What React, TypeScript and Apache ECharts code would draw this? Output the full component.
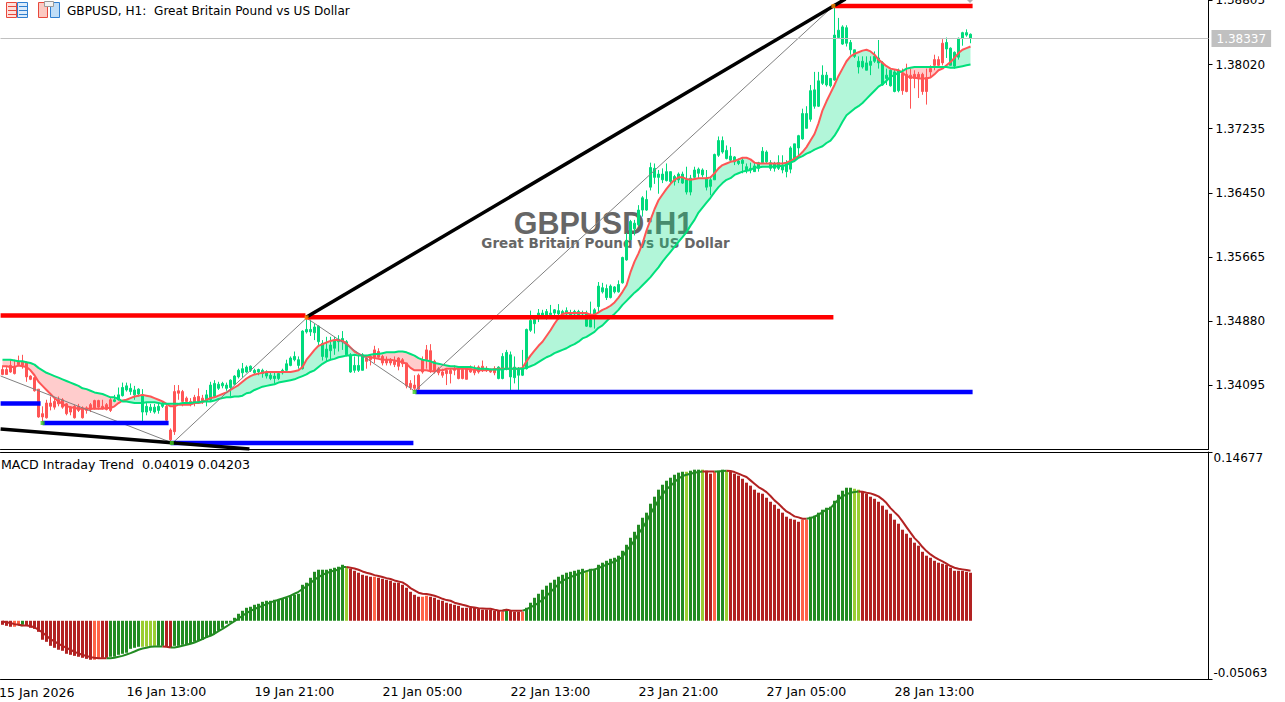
import React, { useEffect, useRef } from "react";
import * as echarts from "echarts";

// Price data is in 1/10000 price units: [open, close, low, high]
const candleE4 = [
[13429,13423,13422,13434],[13429,13423,13423,13432],[13434,13426,13425,13441],[13433,13424,13423,13441],[13439,13435,13434,13446],[13439,13434,13430,13447],[13437,13420,13414,13439],[13421,13417,13416,13422],[13419,13403,13402,13420],[13405,13371,13370,13405],
[13375,13371,13365,13384],[13388,13370,13369,13392],[13388,13384,13379,13396],[13390,13383,13380,13394],[13392,13387,13384,13396],[13392,13383,13381,13394],[13387,13375,13373,13388],[13383,13377,13373,13384],[13384,13370,13369,13386],[13384,13379,13377,13387],
[13382,13370,13369,13384],[13382,13379,13375,13384],[13386,13380,13377,13388],[13391,13382,13380,13392],[13391,13383,13380,13392],[13384,13382,13380,13392],[13386,13380,13379,13388],[13392,13379,13377,13394],[13390,13392,13389,13398],[13392,13398,13391,13407],
[13397,13407,13396,13413],[13404,13409,13402,13413],[13402,13406,13398,13412],[13398,13404,13392,13409],[13399,13405,13396,13406],[13377,13398,13366,13405],[13377,13384,13373,13388],[13379,13383,13376,13387],[13377,13383,13375,13387],[13379,13384,13375,13388],
[13384,13388,13382,13390],[13384,13367,13365,13386],[13355,13343,13341,13357],[13402,13353,13349,13410],[13403,13400,13392,13410],[13402,13390,13384,13404],[13394,13390,13386,13396],[13390,13387,13384,13394],[13395,13388,13384,13398],[13396,13390,13388,13406],
[13394,13390,13387,13398],[13390,13398,13384,13404],[13392,13410,13390,13414],[13396,13412,13395,13416],[13406,13411,13404,13414],[13409,13412,13406,13414],[13406,13410,13403,13413],[13407,13416,13396,13417],[13411,13421,13410,13422],[13420,13428,13418,13430],
[13425,13430,13419,13437],[13426,13432,13425,13434],[13428,13433,13426,13434],[13425,13428,13423,13430],[13426,13429,13422,13430],[13424,13428,13419,13430],[13421,13426,13418,13428],[13418,13422,13416,13426],[13418,13421,13412,13425],[13418,13424,13416,13426],
[13425,13428,13423,13430],[13428,13436,13426,13441],[13434,13443,13433,13445],[13441,13445,13439,13451],[13434,13441,13430,13445],[13430,13476,13429,13477],[13475,13478,13473,13490],[13475,13478,13470,13490],[13474,13481,13465,13485],[13463,13482,13459,13483],
[13445,13461,13440,13465],[13444,13454,13439,13469],[13452,13459,13441,13469],[13455,13465,13447,13469],[13463,13466,13451,13471],[13463,13467,13453,13476],[13447,13463,13445,13465],[13426,13447,13425,13449],[13428,13434,13425,13445],[13428,13434,13426,13447],
[13428,13447,13428,13449],[13443,13439,13430,13447],[13445,13441,13434,13447],[13453,13444,13437,13458],[13451,13444,13443,13455],[13445,13437,13434,13447],[13441,13437,13434,13445],[13441,13437,13434,13443],[13439,13435,13432,13445],[13443,13433,13428,13444],
[13441,13436,13432,13443],[13437,13409,13406,13437],[13412,13407,13404,13416],[13410,13406,13403,13422],[13422,13405,13403,13424],[13441,13426,13424,13445],[13453,13441,13430,13459],[13452,13428,13425,13460],[13439,13426,13424,13441],[13430,13425,13422,13432],
[13426,13422,13419,13430],[13428,13424,13410,13429],[13428,13424,13412,13430],[13430,13428,13422,13434],[13430,13418,13417,13432],[13429,13418,13417,13430],[13430,13417,13417,13432],[13430,13426,13425,13434],[13429,13425,13422,13434],[13432,13426,13424,13434],
[13433,13428,13426,13440],[13430,13428,13426,13433],[13428,13426,13425,13430],[13430,13425,13422,13433],[13418,13432,13417,13433],[13418,13445,13417,13449],[13430,13450,13428,13453],[13420,13447,13404,13451],[13419,13432,13412,13445],[13422,13430,13404,13432],
[13422,13430,13421,13453],[13430,13478,13429,13479],[13477,13489,13475,13501],[13485,13490,13473,13490],[13494,13498,13487,13503],[13494,13498,13494,13502],[13494,13500,13490,13503],[13496,13498,13494,13508],[13498,13502,13493,13503],[13497,13501,13490,13509],
[13497,13500,13492,13502],[13497,13501,13494,13505],[13496,13498,13494,13502],[13497,13500,13492,13502],[13496,13500,13494,13502],[13497,13498,13494,13501],[13482,13498,13481,13501],[13481,13490,13481,13512],[13493,13502,13479,13504],[13506,13531,13498,13536],
[13524,13529,13522,13535],[13517,13528,13514,13533],[13517,13531,13516,13533],[13524,13530,13522,13531],[13524,13533,13523,13538],[13535,13566,13534,13567],[13563,13587,13562,13596],[13588,13610,13587,13612],[13601,13608,13593,13612],[13606,13624,13604,13630],
[13624,13639,13616,13641],[13624,13637,13623,13648],[13652,13676,13648,13682],[13664,13675,13656,13681],[13664,13668,13644,13673],[13661,13668,13657,13675],[13660,13671,13659,13681],[13659,13671,13657,13671],[13659,13665,13654,13667],[13661,13668,13657,13670],
[13657,13668,13656,13671],[13646,13661,13643,13677],[13646,13663,13642,13667],[13664,13673,13661,13677],[13669,13674,13663,13676],[13667,13673,13664,13675],[13652,13663,13648,13673],[13653,13661,13642,13665],[13661,13692,13661,13693],[13691,13709,13689,13714],
[13695,13709,13693,13714],[13687,13697,13686,13703],[13685,13690,13683,13701],[13683,13689,13679,13690],[13681,13684,13679,13687],[13681,13685,13669,13688],[13673,13677,13669,13681],[13673,13675,13669,13682],[13671,13678,13671,13682],[13675,13682,13671,13683],
[13682,13696,13681,13701],[13683,13695,13681,13697],[13675,13682,13672,13685],[13675,13681,13671,13683],[13675,13682,13673,13691],[13673,13679,13669,13691],[13671,13681,13664,13685],[13674,13700,13669,13702],[13685,13705,13683,13705],[13700,13715,13690,13716],
[13711,13742,13710,13748],[13724,13742,13724,13751],[13735,13770,13732,13777],[13751,13771,13748,13793],[13751,13782,13750,13793],[13779,13789,13777,13801],[13777,13789,13775,13793],[13776,13785,13774,13785],[13783,13838,13782,13874],[13835,13844,13834,13859],
[13827,13848,13826,13850],[13828,13847,13824,13850],[13820,13829,13814,13832],[13812,13820,13810,13820],[13799,13806,13791,13812],[13799,13806,13797,13812],[13795,13804,13795,13812],[13801,13806,13789,13812],[13806,13812,13804,13818],[13804,13810,13797,13832],
[13777,13804,13776,13806],[13785,13789,13777,13797],[13776,13795,13775,13796],[13769,13793,13768,13796],[13770,13795,13768,13797],[13791,13770,13765,13797],[13790,13769,13768,13803],[13789,13785,13748,13797],[13790,13785,13773,13795],[13790,13786,13761,13793],
[13790,13769,13765,13792],[13786,13769,13753,13797],[13797,13793,13786,13801],[13808,13801,13795,13814],[13808,13801,13799,13812],[13828,13804,13801,13833],[13821,13829,13810,13835],[13801,13822,13801,13823],[13800,13817,13797,13818],[13811,13834,13808,13835],
[13834,13841,13825,13842],[13838,13841,13836,13845],[13834,13839,13828,13840],
];

const fastMaE4 = [
13433,13433,13432,13432,13434,13433,13432,13428,13422,13414,
13409,13404,13399,13394,13390,13387,13384,13383,13382,13381,
13381,13381,13381,13381,13381,13381,13382,13382,13384,13388,
13391,13392,13394,13396,13397,13398,13397,13396,13394,13392,
13390,13387,13384,13384,13386,13386,13386,13386,13388,13388,
13389,13392,13394,13395,13397,13399,13401,13404,13407,13410,
13414,13418,13421,13423,13424,13425,13426,13426,13426,13426,
13426,13426,13426,13427,13428,13432,13441,13447,13453,13458,
13460,13462,13464,13465,13465,13464,13461,13456,13451,13448,
13446,13445,13444,13443,13442,13441,13441,13441,13440,13439,
13438,13436,13431,13428,13428,13428,13428,13427,13427,13428,
13428,13430,13430,13430,13430,13430,13430,13429,13429,13428,
13428,13428,13429,13429,13430,13430,13430,13430,13430,13430,
13431,13439,13446,13452,13458,13463,13470,13477,13485,13492,
13497,13498,13498,13498,13498,13498,13498,13496,13496,13499,
13502,13504,13507,13511,13517,13524,13532,13548,13561,13571,
13583,13599,13612,13625,13636,13643,13650,13656,13661,13664,
13664,13662,13661,13662,13663,13663,13663,13664,13669,13675,
13679,13681,13683,13684,13686,13688,13688,13686,13682,13681,
13681,13681,13681,13681,13681,13681,13682,13684,13687,13690,
13695,13701,13709,13717,13730,13746,13757,13767,13777,13788,
13797,13806,13812,13815,13817,13819,13820,13818,13814,13808,
13804,13800,13797,13796,13795,13792,13788,13786,13786,13785,
13785,13785,13786,13790,13795,13797,13801,13805,13810,13816,
13820,13822,13824,
];

const slowMaE4 = [
13441,13441,13441,13440,13439,13439,13438,13437,13435,13431,
13428,13425,13423,13421,13419,13417,13415,13413,13411,13409,
13406,13405,13403,13401,13400,13399,13397,13395,13395,13393,
13390,13390,13389,13388,13388,13388,13389,13389,13389,13388,
13387,13387,13387,13387,13387,13388,13388,13388,13389,13389,
13390,13390,13390,13391,13393,13394,13395,13395,13396,13396,
13397,13400,13401,13404,13406,13408,13409,13410,13411,13413,
13414,13415,13416,13417,13419,13421,13423,13426,13428,13432,
13436,13439,13441,13442,13444,13445,13446,13446,13447,13446,
13446,13446,13447,13448,13448,13449,13450,13450,13450,13451,
13451,13450,13448,13446,13443,13441,13440,13439,13437,13436,
13435,13434,13433,13433,13432,13432,13432,13432,13431,13430,
13430,13430,13429,13429,13429,13429,13430,13430,13430,13430,
13430,13431,13433,13435,13438,13441,13444,13446,13449,13451,
13453,13455,13458,13460,13463,13467,13469,13472,13475,13480,
13483,13488,13493,13497,13502,13508,13513,13518,13523,13527,
13532,13537,13542,13548,13554,13561,13567,13573,13579,13585,
13591,13597,13605,13612,13621,13627,13633,13639,13646,13652,
13657,13661,13663,13667,13669,13671,13672,13673,13676,13676,
13677,13677,13677,13677,13678,13678,13679,13682,13684,13688,
13690,13693,13695,13698,13700,13702,13706,13709,13715,13723,
13732,13740,13744,13748,13751,13755,13760,13765,13770,13775,
13778,13782,13787,13789,13792,13794,13797,13798,13799,13799,
13799,13799,13799,13799,13799,13799,13799,13798,13798,13799,
13800,13801,13802,
];

// MACD in 1/1000 units
const histE3 = [
-3.5,-4.4,-5.2,-5.2,-3.5,-3.5,-4.4,-6.1,-7,-9.6,
-16.5,-18.3,-21.8,-23.5,-25.2,-26.1,-28.7,-29.6,-30.5,-31.3,
-32.2,-33.1,-33.9,-33.9,-33.1,-32.2,-32.2,-31.3,-31.3,-29.6,
-28.7,-27.8,-24.4,-23.5,-22.6,-22.6,-22.6,-21.8,-21.8,-21.8,
-21.8,-22.6,-23.5,-21.8,-21.8,-20.9,-20.9,-20,-18.3,-17.4,
-16.5,-14.8,-13,-11.3,-8.7,-6.1,-2.6,-1.7,2.6,6.1,
8.7,11.3,12.2,13.9,14.8,16.5,17.4,17.4,18.3,18.3,
19.1,20,21.8,22.6,23.5,31.3,33.1,37.4,42.6,44.4,
44.4,44.4,45.2,46.1,47,48.7,47,45.2,43.5,41.8,
40,39.2,38.3,38.3,37.4,36.5,35.7,34.8,33.1,33.1,
31.3,28.7,25.2,22.6,20.9,20.9,21.8,20.9,20,18.3,
17.4,15.7,14.8,13.9,13,11.3,11.3,11.3,11.3,10.4,
9.6,9.6,9.6,8.7,8.7,7.8,9.6,8.7,7.8,7.8,
7.8,11.3,15.7,20,23.5,27,30.5,33.1,35.7,38.3,
40,41.8,42.6,43.5,44.4,45.2,43.5,45.2,45.2,48.7,
50.5,52.2,53.9,54.8,56.6,60.9,66.1,72.2,77.4,83.5,
89.6,94,101.8,107.9,114,118.3,121.8,124.4,127,128.8,
129.6,129.6,130.5,131.4,131.4,131.4,130.5,127.9,129.6,130.5,
131.4,130.5,129.6,127.9,126.2,123.5,120.1,117.5,114,111.4,
110.5,107,103.5,100.9,97.4,94,90.5,88.7,87.9,86.1,
87.9,87.9,90.5,91.4,94,96.6,98.3,99.2,104.4,109.6,
113.1,115.7,115.7,114.8,114,112.2,110.5,107.9,106.1,103.5,
100.1,96.6,93.1,87.9,84.4,79.2,75.7,72.2,67.9,65.3,
60,56.6,54.8,52.2,50.5,49.6,48.7,46.1,43.5,43.5,
43.5,42.6,41.8,
];

const signalE3 = [
-0.6,-1.2,-2,-2.9,-3.5,-4.1,-4.1,-4.6,-5.8,-7.8,
-10.2,-13,-16,-18,-20,-21.8,-23.5,-25.2,-27,-28.4,
-29.6,-30.7,-31.6,-32.2,-32.5,-32.5,-32.5,-32.5,-32.2,-31.3,
-30.5,-29.3,-28.1,-26.7,-25.2,-24.1,-23.5,-22.6,-22.3,-22.3,
-22.3,-22.6,-23.2,-23.2,-22.6,-21.8,-20.9,-20,-18.9,-17.4,
-16,-14.2,-13,-11.3,-9,-7,-4.9,-2.6,-0.3,2,
4.4,6.7,8.7,10.2,11.6,13,14.5,16,17.1,18.3,
19.4,20.6,21.8,23.5,25.2,27.6,29.9,32.8,35.7,38,
40,41.5,42.6,43.8,44.4,46.7,46.7,46.1,45.5,44.4,
42.9,41.8,40.9,39.7,38.9,38,37.1,36.3,35.1,34.2,
33.4,31.3,28.4,26.4,24.4,23.5,23.2,22.6,21.8,20.6,
19.1,18,17.4,15.7,14.8,13.9,13.1,11.9,11.6,11,
10.7,10.4,10.4,9.6,9,8.7,9.6,9,8.7,8.7,
8.7,9.9,11.9,13.3,15.7,18.3,21.5,24.9,28.4,31.9,
34.8,36.5,38,39.4,40.9,42,43.2,44.1,44.7,45.8,
47.3,48.7,50.2,51.3,53.4,55.4,61.2,65,69.9,75.7,
80.6,86.4,93.1,98.9,104.7,109.6,114.3,117.2,120.6,123.5,
125.9,127,127.9,128.8,129.3,129.9,129.9,129.9,129.9,129.9,
130.2,130.5,130.2,129.3,127.9,126.4,125,122.1,119.2,116.3,
114.3,111.9,108.5,104.7,101.8,98.3,95.1,93.1,90.8,89.9,
88.7,88.7,89.3,90.5,92.2,94.5,96.6,98,101.8,105.6,
108.2,109.9,111.4,111.9,112.5,112.2,111.4,110.8,109.6,108.2,
105.6,102.4,98,94.5,91.1,86.4,81.5,76.6,71.9,68.4,
64.1,60.6,57.7,55.4,53.4,51.6,49.6,47.6,46.1,45.2,
44.7,44.1,43.5,
];

// [bar count, G dark green | L lime | R firebrick | T tomato]
const histColorRuns = [[3,"R"],[2,"T"],[1,"G"],[17,"R"],[2,"T"],[2,"R"],[8,"G"],[4,"L"],[2,"G"],[2,"R"],[42,"G"],[1,"G"],[1,"L"],[6,"R"],[1,"T"],[11,"R"],[2,"T"],[18,"R"],[1,"T"],[1,"G"],[3,"R"],[1,"T"],[15,"G"],[1,"L"],[24,"G"],[1,"L"],[3,"G"],[1,"L"],[2,"R"],[1,"T"],[2,"G"],[1,"L"],[18,"R"],[2,"T"],[11,"G"],[2,"L"],[28,"R"]];
const histColors = { G: "#228B22", L: "#9ACD32", R: "#B22222", T: "#FF6347" };

const priceTicks = [1.34095, 1.34880, 1.35665, 1.36450, 1.37235, 1.38020, 1.38805];
const macdTicks = [-0.05063, 0.14677];
const lastPrice = 1.38337;
const timeTicks = [[31,"16 Jan 13:00"],[63,"19 Jan 21:00"],[95,"21 Jan 05:00"],[127,"22 Jan 13:00"],[159,"23 Jan 21:00"],[191,"27 Jan 05:00"],[223,"28 Jan 13:00"]];
// [from bar, to bar, price]
const resistanceLevels = [[-0.6,75.6,1.3495],[75.6,207.6,1.34928],[207.6,242.4,1.38736]];
const supportLevels = [[-0.6,9.4,1.33874],[9.9,41.4,1.33636],[41.9,102.6,1.33391],[103.1,242.4,1.34015]];
const trendLines = [[[-0.6,1.33562],[61.6,1.33318]],[[75.9,1.34932],[210.6,1.38821]]];
const zigzag = [[-0.6,1.34211],[42.4,1.33391],[75.9,1.3492],[102.9,1.34027],[207.6,1.38736]];
const lowPivots = [[9.9,1.33636],[42.2,1.33391],[102.9,1.34015]];
const highPivots = [[75.9,1.34928],[207.6,1.38736]];

const BAR_SLOTS = 302;
const FONT = "DejaVu Sans";

const fast = fastMaE4.map((v) => v / 1e4);
const slow = slowMaE4.map((v) => v / 1e4);
const candles = candleE4.map((r) => r.map((v) => v / 1e4));
const hist = histE3.map((v) => v / 1e3);
const signal = signalE3.map((v) => v / 1e3);
const codes: string[] = [];
histColorRuns.forEach(([n, c]: any) => { for (let k = 0; k < n; k++) codes.push(c); });
const isGreen = (i: number) => codes[i] === "G" || codes[i] === "L";
const signalGreen = signal.map((v, i) => (isGreen(i) || isGreen(i + 1) ? v : null));
const signalRed = signal.map((v, i) => (!isGreen(i) || (i + 1 < signal.length && !isGreen(i + 1)) ? v : null));

const categories = Array.from({ length: BAR_SLOTS }, () => "");
timeTicks.forEach(([i, s]: any) => { categories[i] = s; });

const bandRuns: { start: number; end: number; up: boolean }[] = [];
{
  let start = 0;
  for (let i = 1; i <= fast.length; i++) {
    const same = i < fast.length && fast[i] >= slow[i] === fast[start] >= slow[start];
    if (!same) {
      bandRuns.push({ start, end: Math.min(i, fast.length - 1), up: fast[start] >= slow[start] });
      start = i;
    }
  }
}

const levelSeries = (levels: number[][], color: string) =>
  levels.map((l) => ({
    type: "line", xAxisIndex: 1, yAxisIndex: 0, z: 5, symbol: "none", silent: true,
    data: [[l[0], l[2]], [l[1], l[2]]],
    lineStyle: { color, width: 4.5, cap: "butt" },
  }));

export default function App() {
  const ref = useRef<HTMLDivElement>(null);
  useEffect(() => {
    const chart = echarts.init(ref.current!, undefined, { renderer: "svg" });
    const priceMax = 1.38809;
    const priceMin = 1.33318;
    const axisLineStyle = { show: true, onZero: false, lineStyle: { color: "#000", width: 1 } };
    chart.setOption({
      animation: false,
      backgroundColor: "#fff",
      grid: [
        { left: 0.5, top: 0, width: 1208, height: 449, outerBoundsMode: "none" },
        { left: 0.5, top: 452, width: 1208, height: 227, outerBoundsMode: "none" },
      ],
      xAxis: [
        { type: "category", gridIndex: 0, data: categories, axisLine: axisLineStyle, axisTick: { show: false }, axisLabel: { show: false } },
        { type: "value", gridIndex: 0, min: -0.625, max: 301.375, show: false, splitLine: { show: false } },
        {
          type: "category", gridIndex: 1, data: categories, axisLine: axisLineStyle,
          axisTick: { alignWithLabel: true, length: 4, lineStyle: { color: "#000" }, interval: (_: number, v: string) => !!v },
          axisLabel: { interval: (_: number, v: string) => !!v, align: "left", color: "#000", fontFamily: FONT, fontSize: 12.6, margin: 6 },
        },
        { type: "value", gridIndex: 1, position: "top", min: -0.625, max: 301.375, axisLine: axisLineStyle, axisTick: { show: false }, axisLabel: { show: false }, splitLine: { show: false } },
      ],
      yAxis: [
        {
          type: "value", gridIndex: 0, position: "right", min: priceMin, max: priceMax, splitLine: { show: false },
          axisLine: axisLineStyle,
          axisTick: { show: true, length: 4, customValues: priceTicks, lineStyle: { color: "#000" } },
          axisLabel: { customValues: priceTicks, formatter: (v: number) => v.toFixed(5), color: "#000", fontFamily: FONT, fontSize: 12, margin: 7 },
        },
        {
          type: "value", gridIndex: 1, position: "right", min: macdTicks[0], max: macdTicks[1], splitLine: { show: false },
          axisLine: axisLineStyle,
          axisTick: { show: true, length: 4, customValues: macdTicks, lineStyle: { color: "#000" } },
          axisLabel: { customValues: macdTicks, formatter: (v: number) => v.toFixed(5), color: "#000", fontFamily: FONT, fontSize: 12, margin: 5, verticalAlignMinLabel: "bottom", verticalAlignMaxLabel: "top" },
        },
      ],
      series: [
        {
          type: "custom", xAxisIndex: 0, yAxisIndex: 0, z: 1, silent: true, clip: true,
          data: bandRuns.map((r) => [r.start, fast[r.start]]),
          renderItem: (params: any, api: any) => {
            const r = bandRuns[params.dataIndex];
            const pts: number[][] = [];
            for (let i = r.start; i <= r.end; i++) pts.push(api.coord([i, fast[i]]));
            for (let i = r.end; i >= r.start; i--) pts.push(api.coord([i, slow[i]]));
            return { type: "polygon", shape: { points: pts }, style: { fill: r.up ? "rgba(0,225,130,0.3)" : "rgba(255,0,0,0.2)" } };
          },
        },
        {
          type: "candlestick", xAxisIndex: 0, yAxisIndex: 0, z: 2, barWidth: 2, silent: true, data: candles,
          itemStyle: { color: "#00DA7C", color0: "#FF5555", borderColor: "#00DA7C", borderColor0: "#FF5555", borderWidth: 1 },
        },
        { type: "line", name: "fast", xAxisIndex: 0, yAxisIndex: 0, z: 3, symbol: "none", silent: true, data: fast, lineStyle: { color: "#FF5555", width: 2 } },
        { type: "line", name: "slow", xAxisIndex: 0, yAxisIndex: 0, z: 3, symbol: "none", silent: true, data: slow, lineStyle: { color: "#00E07C", width: 2 } },
        {
          type: "line", name: "zigzag", xAxisIndex: 1, yAxisIndex: 0, z: 4, symbol: "none", silent: true, data: zigzag,
          lineStyle: { color: "#808080", width: 1 },
          markLine: {
            silent: true, symbol: "none", animation: false, precision: 5,
            data: [{ yAxis: lastPrice }],
            lineStyle: { color: "#C0C0C0", width: 1, type: "solid" },
            label: { show: true, position: "end", distance: 3, formatter: lastPrice.toFixed(5), color: "#fff", backgroundColor: "#C0C0C0", fontFamily: FONT, fontSize: 12, padding: [3, 5, 2, 5] },
          },
        },
        ...levelSeries(resistanceLevels, "#FF0000"),
        ...levelSeries(supportLevels, "#0000FF"),
        ...trendLines.map((t) => ({
          type: "line", xAxisIndex: 1, yAxisIndex: 0, z: 6, symbol: "none", silent: true, data: t,
          lineStyle: { color: "#000", width: 3.5 },
        })),
        { type: "scatter", xAxisIndex: 1, yAxisIndex: 0, z: 7, symbol: "rect", symbolSize: 4, silent: true, data: lowPivots, itemStyle: { color: "#40D020" } },
        { type: "scatter", xAxisIndex: 1, yAxisIndex: 0, z: 7, symbol: "rect", symbolSize: 4, silent: true, data: highPivots, itemStyle: { color: "#FF8C00" } },
        {
          type: "bar", xAxisIndex: 2, yAxisIndex: 1, z: 2, barWidth: 3, silent: true,
          data: hist.map((v, i) => ({ value: v, itemStyle: { color: (histColors as any)[codes[i]] } })),
        },
        { type: "line", xAxisIndex: 2, yAxisIndex: 1, z: 3, symbol: "none", silent: true, data: signalGreen, lineStyle: { color: "#228B22", width: 2 } },
        { type: "line", xAxisIndex: 2, yAxisIndex: 1, z: 3, symbol: "none", silent: true, data: signalRed, lineStyle: { color: "#B22222", width: 2 } },
      ],
      graphic: [
        { type: "text", z: 0, x: 603.5, y: 223, style: { text: "GBPUSD:H1", fill: "#666666", font: "bold 30.5px 'Liberation Sans'", textAlign: "center", textVerticalAlign: "middle" } },
        { type: "text", z: 0, x: 605.5, y: 243, style: { text: "Great Britain Pound vs US Dollar", fill: "#666666", font: "bold 13.5px 'DejaVu Sans'", textAlign: "center", textVerticalAlign: "middle" } },
        { type: "text", z: 20, x: 67, y: 11, style: { text: "GBPUSD, H1:  Great Britain Pound vs US Dollar", fill: "#000", font: `12.1px '${FONT}'`, textVerticalAlign: "middle" } },
        { type: "text", z: 20, x: 1, y: 464, style: { text: "MACD Intraday Trend  0.04019 0.04203", fill: "#000", font: `12.6px '${FONT}'`, textVerticalAlign: "middle" } },
        { type: "text", z: 20, x: -1, y: 692, style: { text: "15 Jan 2026", fill: "#000", font: `12.6px '${FONT}'`, textVerticalAlign: "middle" } },
        { type: "rect", z: 20, shape: { x: 6.5, y: 2.5, width: 10, height: 15 }, style: { fill: "#FDE0DC", stroke: "#E8483C", lineWidth: 1 } },
        { type: "rect", z: 20, shape: { x: 17.5, y: 2.5, width: 10, height: 15 }, style: { fill: "#DCEBFA", stroke: "#2F7FD0", lineWidth: 1 } },
        ...[6.5, 10.5, 14.5].flatMap((y) => [
          { type: "line", z: 21, shape: { x1: 8, y1: y, x2: 16, y2: y }, style: { stroke: "#E8483C", lineWidth: 1 } },
          { type: "line", z: 21, shape: { x1: 19, y1: y, x2: 27, y2: y }, style: { stroke: "#2F7FD0", lineWidth: 1 } },
        ]),
        { type: "rect", z: 20, shape: { x: 38.5, y: 2.5, width: 9, height: 15 }, style: { fill: "#FBC9C2", stroke: "#E8483C", lineWidth: 1 } },
        { type: "rect", z: 20, shape: { x: 50.5, y: 2.5, width: 9, height: 15 }, style: { fill: "#BFDDF7", stroke: "#2F7FD0", lineWidth: 1 } },
        { type: "rect", z: 21, shape: { x: 44.5, y: 1.5, width: 9, height: 5 }, style: { fill: "#F2F2F2", stroke: "#9A9A9A", lineWidth: 1 } },
        { type: "polygon", z: 20, shape: { points: [[967, 0], [973, 0], [970, 3]] }, style: { fill: "#B0B0B0" } },
      ],
    });
    return () => chart.dispose();
  }, []);
  return <div ref={ref} style={{ position: "absolute", left: 0, top: 0, width: 1285, height: 702 }} />;
}
